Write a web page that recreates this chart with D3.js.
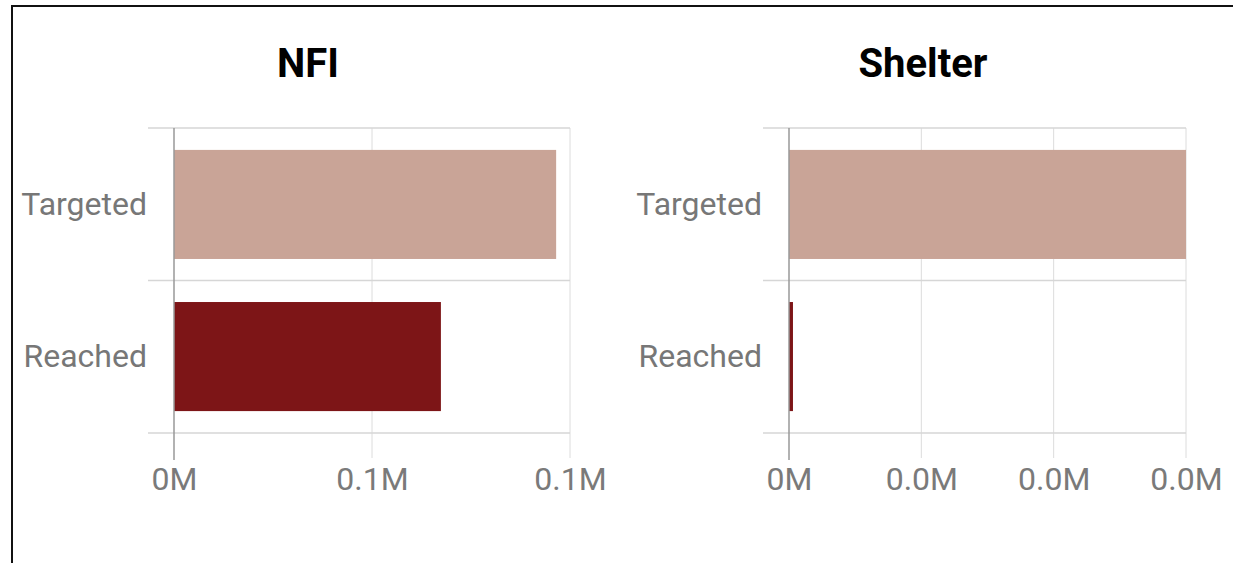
<!DOCTYPE html>
<html>
<head>
<meta charset="utf-8">
<script src="https://cdn.jsdelivr.net/npm/d3@7"></script>
<style>
  body { margin: 0; background: #fff; }
  svg { display: block; font-family: Roboto, Arial, sans-serif; }
</style>
</head>
<body>
<svg id="chart" width="1233" height="563"></svg>
<script>
// categories shared by both panels
const categories = ["Targeted", "Reached"];

// NFI panel
const nfiValues = [96500, 67400];
const nfiTicks = [0, 50000, 100000];
const nfiTickLabels = ["0M", "0.1M", "0.1M"];

// Shelter panel
const shelterValues = [30000, 300];
const shelterTicks = [0, 10000, 20000, 30000];
const shelterTickLabels = ["0M", "0.0M", "0.0M", "0.0M"];

const barColors = ["#c9a497", "#7d1517"];

const svg = d3.select("#chart");

// frame round the picture (left and top edges only visible)
svg.append("path")
  .attr("d", "M12,563V6H1233")
  .attr("fill", "none")
  .attr("stroke", "#111")
  .attr("stroke-width", 2);

function drawPanel(opts) {
  const x = d3.scaleLinear()
    .domain([0, d3.max(opts.ticks)])
    .range([opts.x0, opts.x1]);

  const y = d3.scaleBand()
    .domain(categories)
    .range([128, 433])
    .paddingInner(0.283)
    .paddingOuter(0.144);

  const g = svg.append("g");

  // title
  g.append("text")
    .attr("x", opts.x0 + 134)
    .attr("y", 77)
    .attr("text-anchor", "middle")
    .attr("font-size", 40)
    .attr("font-weight", 700)
    .attr("fill", "#000")
    .text(opts.title);

  // vertical grid lines
  g.append("g")
    .selectAll("line")
    .data(opts.ticks.slice(1))
    .join("line")
    .attr("x1", d => x(d))
    .attr("x2", d => x(d))
    .attr("y1", 128)
    .attr("y2", 458)
    .attr("stroke", "#dcdcdc")
    .attr("stroke-width", 1);

  // category separators
  const step = y.step();
  const gap = step - y.bandwidth();
  const seps = [y.range()[0], y(categories[1]) - gap / 2, y.range()[1]];
  g.append("g")
    .selectAll("line")
    .data(seps)
    .join("line")
    .attr("x1", opts.x0 - 26)
    .attr("x2", opts.x1)
    .attr("y1", d => d)
    .attr("y2", d => d)
    .attr("stroke", "#d6d6d6")
    .attr("stroke-width", 1.5);

  // bars
  g.append("g")
    .selectAll("rect")
    .data(opts.values)
    .join("rect")
    .attr("x", x(0))
    .attr("y", (d, i) => y(categories[i]))
    .attr("width", d => x(d) - x(0))
    .attr("height", y.bandwidth())
    .attr("fill", (d, i) => barColors[i]);

  // zero axis line
  g.append("line")
    .attr("x1", x(0))
    .attr("x2", x(0))
    .attr("y1", 128)
    .attr("y2", 460)
    .attr("stroke", "#999")
    .attr("stroke-width", 1.5);

  // category labels
  const yAxis = g.append("g")
    .attr("transform", `translate(${opts.x0 - 27},0)`)
    .call(d3.axisLeft(y).tickSize(0).tickPadding(0));
  yAxis.select(".domain").remove();
  yAxis.selectAll("text")
    .attr("font-size", 32)
    .attr("font-family", "Roboto, Arial, sans-serif")
    .attr("fill", "#777");

  // value axis labels
  const xAxis = g.append("g")
    .attr("transform", "translate(0,433)")
    .call(d3.axisBottom(x)
      .tickValues(opts.ticks)
      .tickSize(0)
      .tickPadding(34)
      .tickFormat((d, i) => opts.tickLabels[i]));
  xAxis.select(".domain").remove();
  xAxis.selectAll("text")
    .attr("font-size", 32)
    .attr("font-family", "Roboto, Arial, sans-serif")
    .attr("fill", "#7a7a7a");
}

drawPanel({
  title: "NFI",
  values: nfiValues,
  ticks: nfiTicks,
  tickLabels: nfiTickLabels,
  x0: 174,
  x1: 570
});

drawPanel({
  title: "Shelter",
  values: shelterValues,
  ticks: shelterTicks,
  tickLabels: shelterTickLabels,
  x0: 789,
  x1: 1186
});
</script>
</body>
</html>
